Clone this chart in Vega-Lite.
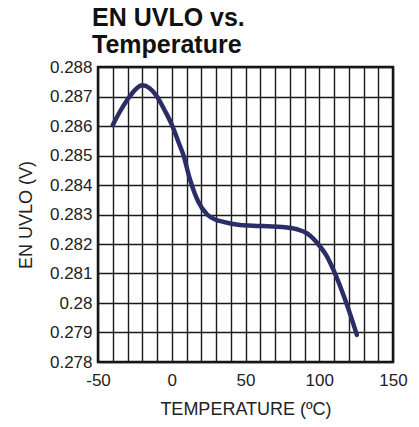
{
  "$schema": "https://vega.github.io/schema/vega-lite/v6.json",
  "autosize": {"type": "none"},
  "width": 295,
  "height": 295,
  "padding": {"left": 98, "top": 67, "right": 26, "bottom": 65},
  "background": "white",
  "config": {
    "font": "Liberation Sans",
    "view": {"stroke": "#111111", "strokeWidth": 2.5},
    "axis": {
      "labelFont": "Liberation Sans",
      "titleFont": "Liberation Sans",
      "labelFontSize": 17,
      "titleFontSize": 18,
      "labelColor": "#222222",
      "titleColor": "#222222",
      "titleFontWeight": "normal",
      "gridColor": "#1a1a1a",
      "gridWidth": 1.4,
      "gridOpacity": 1,
      "ticks": false,
      "tickSize": 0,
      "domain": false
    }
  },
  "title": {
    "text": ["EN UVLO vs.", "Temperature"],
    "anchor": "start",
    "frame": "group",
    "font": "Liberation Sans",
    "fontSize": 25,
    "fontWeight": "bold",
    "color": "#111111",
    "dx": -6,
    "offset": 0,
    "lineHeight": 27
  },
  "data": {
    "values": [
      {"t": -40, "v": 0.28603},
      {"t": -35, "v": 0.2865},
      {"t": -30, "v": 0.2869},
      {"t": -25, "v": 0.28722},
      {"t": -20, "v": 0.28738},
      {"t": -15, "v": 0.28728},
      {"t": -10, "v": 0.287},
      {"t": -5, "v": 0.28655},
      {"t": 0, "v": 0.28605},
      {"t": 5, "v": 0.2854},
      {"t": 8, "v": 0.285},
      {"t": 12, "v": 0.28425},
      {"t": 18, "v": 0.28343},
      {"t": 24, "v": 0.283},
      {"t": 30, "v": 0.28282},
      {"t": 35, "v": 0.28275},
      {"t": 45, "v": 0.28265},
      {"t": 55, "v": 0.28262},
      {"t": 65, "v": 0.2826},
      {"t": 75, "v": 0.28258},
      {"t": 85, "v": 0.2825},
      {"t": 92, "v": 0.28235},
      {"t": 100, "v": 0.28195},
      {"t": 105, "v": 0.2816},
      {"t": 110, "v": 0.28108},
      {"t": 118, "v": 0.28005},
      {"t": 125.5, "v": 0.27892}
    ]
  },
  "mark": {"type": "line", "interpolate": "monotone", "color": "#2b2d66", "strokeWidth": 4.5, "strokeCap": "round", "clip": true},
  "encoding": {
    "x": {
      "field": "t",
      "type": "quantitative",
      "scale": {"domain": [-50, 150], "nice": false, "zero": false},
      "axis": {
        "title": "TEMPERATURE (ºC)",
        "values": [-50, -40, -30, -20, -10, 0, 10, 20, 30, 40, 50, 60, 70, 80, 90, 100, 110, 120, 130, 140, 150],
        "labelExpr": "datum.value % 50 === 0 ? '' + datum.value : ''",
        "labelPadding": 10,
        "titlePadding": 12,
        "labelFlush": false,
        "labelOverlap": false
      }
    },
    "y": {
      "field": "v",
      "type": "quantitative",
      "scale": {"domain": [0.278, 0.288], "nice": false, "zero": false},
      "axis": {
        "title": "EN UVLO (V)",
        "values": [0.278, 0.279, 0.28, 0.281, 0.282, 0.283, 0.284, 0.285, 0.286, 0.287, 0.288],
        "format": "~g",
        "labelPadding": 6,
        "titlePadding": 14,
        "labelFlush": false,
        "labelOverlap": false
      }
    }
  }
}
